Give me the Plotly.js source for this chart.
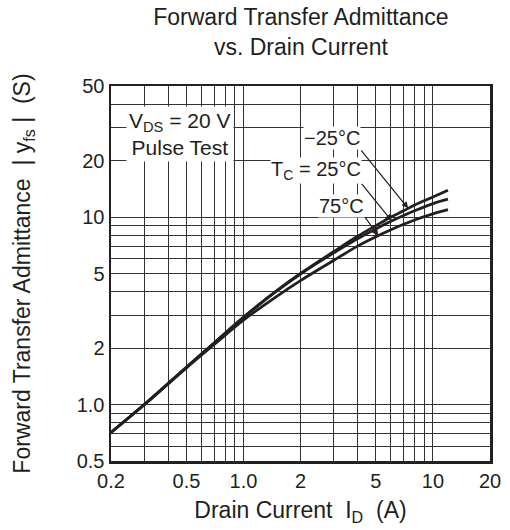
<!DOCTYPE html>
<html>
<head>
<meta charset="utf-8">
<script src="https://cdn.plot.ly/plotly-3.0.1.min.js"></script>
<style>html,body{margin:0;padding:0;background:#fff;}#chart{width:510px;height:530px;}</style>
</head>
<body>
<div id="chart"></div>
<script>
// Drain current I_D (A)
const drainCurrent = [0.2, 0.3, 0.5, 0.7, 1.0, 1.5, 2, 3, 4, 5, 6, 7, 8, 10, 12];
// |yfs| (S) for each case temperature
const yfsMinus25 = [0.71, 1.0, 1.58, 2.13, 2.92, 4.05, 5.0, 6.55, 7.9, 9.0, 10.0, 10.8, 11.6, 12.8, 13.9];
const yfs25      = [0.71, 1.0, 1.58, 2.13, 2.92, 4.04, 4.97, 6.45, 7.65, 8.65, 9.5, 10.2, 10.8, 11.8, 12.45];
const yfs75      = [0.71, 1.0, 1.57, 2.09, 2.82, 3.78, 4.58, 5.88, 7.0, 7.85, 8.55, 9.15, 9.65, 10.4, 10.95];

const xTickVals = [0.2, 0.5, 1, 2, 5, 10, 20];
const xTickText = ["0.2", "0.5", "1.0", "2", "5", "10", "20"];
const yTickVals = [0.5, 1, 2, 5, 10, 20, 50];
const yTickText = ["0.5", "1.0", "2", "5", "10", "20", "50"];
const xGridVals = [0.3,0.4,0.5,0.6,0.7,0.8,0.9,1,2,3,4,5,6,7,8,9,10];
const yGridVals = [0.6,0.7,0.8,0.9,1,2,3,4,5,6,7,8,9,10,20,30,40];

// arrow tip x positions (A) for the temperature labels
const labelTipX = {m25: 7.4, t25: 6.06, t75: 5.15};

function interpLogLog(xs, ys, x) {
  for (let i = 0; i < xs.length - 1; i++) {
    if (x >= xs[i] && x <= xs[i+1]) {
      const t = (Math.log10(x) - Math.log10(xs[i])) / (Math.log10(xs[i+1]) - Math.log10(xs[i]));
      return Math.pow(10, Math.log10(ys[i]) + t * (Math.log10(ys[i+1]) - Math.log10(ys[i])));
    }
  }
  return ys[ys.length-1];
}

const ink = '#231f20';
const lineStyle = {color: ink, width: 2.8, shape: 'spline', smoothing: 1};
const traces = [
  {x: drainCurrent, y: yfsMinus25, mode: 'lines', line: lineStyle, name: '-25°C', hoverinfo: 'skip'},
  {x: drainCurrent, y: yfs25, mode: 'lines', line: lineStyle, name: '25°C', hoverinfo: 'skip'},
  {x: drainCurrent, y: yfs75, mode: 'lines', line: lineStyle, name: '75°C', hoverinfo: 'skip'}
];

const font = {family: 'Liberation Sans, Arial, sans-serif', color: ink};
function arrowAnn(text, series, tipX, ax, ay) {
  return {
    x: Math.log10(tipX), y: Math.log10(interpLogLog(drainCurrent, series, tipX)),
    xref: 'x', yref: 'y', text: text, showarrow: true, arrowhead: 2, arrowsize: 1.1,
    arrowwidth: 1.2, arrowcolor: ink, ax: ax, ay: ay, xanchor: 'right', yanchor: 'bottom',
    bgcolor: '#fff', borderpad: 0, font: Object.assign({size: 20}, font)
  };
}

const axisCommon = {
  type: 'log', showline: true, mirror: true, linecolor: ink, linewidth: 2.5,
  ticks: '', showgrid: true, gridcolor: '#333', gridwidth: 1, zeroline: false,
  tickfont: Object.assign({size: 20}, font), tickmode: 'array'
};

const layout = {
  width: 510, height: 530,
  margin: {l: 111, r: 20, t: 86, b: 69},
  paper_bgcolor: '#fff', plot_bgcolor: '#fff',
  showlegend: false,
  title: {text: 'Forward Transfer Admittance<br>vs. Drain Current', x: 0.59, xanchor: 'center',
          y: 0.952, yanchor: 'top', yref: 'container', font: Object.assign({size: 23}, font)},
  xaxis: Object.assign({}, axisCommon, {
    range: [Math.log10(0.2), Math.log10(20)], tickvals: xTickVals, ticktext: xTickText,
    minor: {tickmode: 'array', tickvals: xGridVals, showgrid: true, gridcolor: '#333', gridwidth: 1, ticks: ''},
    title: {text: 'Drain Current\u00a0\u00a0I<sub>D</sub>\u00a0\u00a0(A)', standoff: 12, font: Object.assign({size: 23}, font)}
  }),
  yaxis: Object.assign({}, axisCommon, {
    range: [Math.log10(0.5), Math.log10(50)], tickvals: yTickVals, ticktext: yTickText,
    minor: {tickmode: 'array', tickvals: yGridVals, showgrid: true, gridcolor: '#333', gridwidth: 1, ticks: ''},
    title: {text: 'Forward Transfer Admittance\u00a0\u00a0|\u00a0y<sub>fs</sub>\u00a0|\u00a0\u00a0(S)', standoff: 40, font: Object.assign({size: 23}, font)}
  }),
  annotations: [
    {xref: 'paper', yref: 'paper', x: 0.183, y: 0.872, xanchor: 'center', yanchor: 'middle',
     text: 'V<sub>DS</sub> = 20 V<br>Pulse Test',
     showarrow: false, bgcolor: '#fff', borderpad: 2, align: 'center', font: Object.assign({size: 21}, font)},
    arrowAnn('\u221225°C', yfsMinus25, labelTipX.m25, -47, -58),
    arrowAnn('T<sub>C</sub> = 25°C', yfs25, labelTipX.t25, -30, -37),
    arrowAnn('75°C', yfs75, labelTipX.t75, -13, -18)
  ]
};

Plotly.newPlot('chart', traces, layout, {staticPlot: true, displayModeBar: false});
</script>
</body>
</html>
